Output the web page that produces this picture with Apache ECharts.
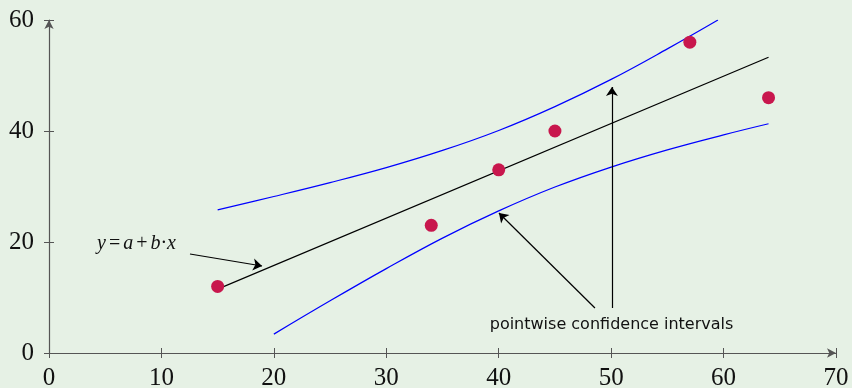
<!DOCTYPE html>
<html><head><meta charset="utf-8">
<script src="https://cdn.jsdelivr.net/npm/echarts@6/dist/echarts.min.js"></script>
<style>html,body{margin:0;padding:0;background:#e6f1e5;}#c{width:852px;height:388px;}</style>
</head><body><div id="c"></div>
<script>
// Data
const xTicks = [0, 10, 20, 30, 40, 50, 60, 70];
const yTicks = [0, 20, 40, 60];
const pointsX = [15, 34, 40, 45, 57, 64];
const pointsY = [12, 23, 33, 40, 56, 46];
const regressionLine = [[15, 11.5], [64, 53.3]];
const upperBand = [[15, 25.8], [20, 28.2], [25, 30.7], [30, 33.4], [35, 36.5], [40, 40.1], [45, 44.4], [50, 49.3], [55, 54.8], [59.5, 60.0]];
const lowerBand = [[20, 3.4], [25, 9.4], [30, 15.2], [35, 20.7], [40, 25.6], [45, 29.9], [50, 33.5], [55, 36.6], [60, 39.3], [64, 41.3]];
const arrowLines = [
  [[12.54, 17.84], [18.95, 15.68]],
  [[48.56, 8.11], [40.02, 25.23]],
  [[50.07, 8.11], [50.07, 47.93]]
];
const formulaPos = [4.27, 19.6];
const ciLabelPos = [39.2, 5.0];
const ciLabel = 'pointwise confidence intervals';

const chart = echarts.init(document.getElementById('c'));
const axisColor = '#555';
const tickFont = {color: '#111', fontFamily: 'Liberation Serif', fontSize: 25};
function baseX(show) {
  return {type: 'value', min: 0, max: 70, interval: 10,
    axisLine: {show: show, lineStyle: {color: axisColor, width: 1.2}, symbol: ['none', 'arrow'], symbolSize: [7, 9]},
    splitLine: {show: false}};
}
function baseY(show) {
  return {type: 'value', min: 0, max: 60, interval: 20,
    axisLine: {show: show, lineStyle: {color: axisColor, width: 1.2}, symbol: ['none', 'arrow'], symbolSize: [7, 9]},
    splitLine: {show: false}};
}
const option = {
  backgroundColor: '#e6f1e5',
  animation: false,
  grid: {left: 49, right: 16, top: 20, bottom: 35, containLabel: false, outerBoundsMode: 'none'},
  xAxis: [
    Object.assign(baseX(true), {axisTick: {show: true, inside: false, length: 5, lineStyle: {color: axisColor}},
      axisLabel: Object.assign({margin: 13}, tickFont)}),
    Object.assign(baseX(false), {axisTick: {show: true, inside: true, length: 5, lineStyle: {color: axisColor}},
      axisLabel: {show: false}, position: 'bottom'})
  ],
  yAxis: [
    Object.assign(baseY(true), {axisTick: {show: true, inside: false, length: 5, lineStyle: {color: axisColor}},
      axisLabel: Object.assign({margin: 15}, tickFont)}),
    Object.assign(baseY(false), {axisTick: {show: true, inside: true, length: 5, lineStyle: {color: axisColor}},
      axisLabel: {show: false}, position: 'left'})
  ],
  series: [
    {type: 'line', data: upperBand, smooth: 0.4, showSymbol: false,
      lineStyle: {color: '#0000ff', width: 1.2}, z: 3},
    {type: 'line', data: lowerBand, smooth: 0.4, showSymbol: false,
      lineStyle: {color: '#0000ff', width: 1.2}, z: 3},
    {type: 'line', data: regressionLine, showSymbol: false,
      lineStyle: {color: '#000', width: 1.2}, z: 3},
    {type: 'scatter', data: pointsX.map((x, i) => [x, pointsY[i]]), symbolSize: 13,
      itemStyle: {color: '#c8174d', opacity: 1}, z: 5},
    {type: 'lines', coordinateSystem: 'cartesian2d', polyline: false,
      data: arrowLines.map(c => ({coords: c})),
      symbol: ['none', 'arrow'], symbolSize: 9,
      lineStyle: {color: '#000', width: 1.2, opacity: 1}, z: 4}
  ]
};
chart.setOption(option);
const fp = chart.convertToPixel({gridIndex: 0}, formulaPos);
const cp = chart.convertToPixel({gridIndex: 0}, ciLabelPos);
const it = {fontFamily: 'Liberation Serif', fontStyle: 'italic', fontSize: 20, fill: '#111'};
const up = {fontFamily: 'Liberation Serif', fontStyle: 'normal', fontSize: 20, fill: '#111', padding: [0, 3]};
chart.setOption({
  graphic: [
    {type: 'text', x: fp[0], y: fp[1], style: {
      text: '{i|y}{n|=}{i|a}{n|+}{i|b}{d|·}{i|x}', verticalAlign: 'middle',
      rich: {i: it, n: up, d: {fontFamily: 'Liberation Serif', fontSize: 20, fill: '#111'}}}},
    {type: 'text', x: cp[0], y: cp[1], style: {
      text: ciLabel, fontFamily: 'DejaVu Sans', fontSize: 16, fill: '#111', verticalAlign: 'middle'}}
  ]
});
</script></body></html>
